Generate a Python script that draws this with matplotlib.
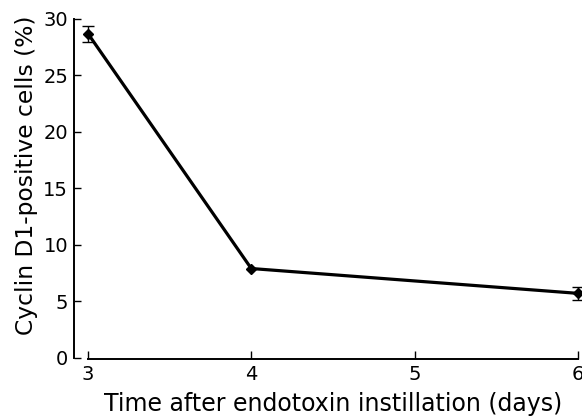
import matplotlib
matplotlib.use("Agg")
import matplotlib.pyplot as plt

days = [3, 4, 6]
cyclin_pct = [28.7, 7.9, 5.7]
cyclin_err = [0.7, 0.0, 0.55]
xticks = [3, 4, 5, 6]
yticks = [0, 5, 10, 15, 20, 25, 30]

plt.rcParams['font.family'] = ['DejaVu Sans']

W, H = 582, 416
fig = plt.figure(figsize=(W/100, H/100), dpi=100)
ax_l, ax_b, ax_t = 74, 58.3, 397
ax = fig.add_axes([ax_l/W, ax_b/H, (W-ax_l)/W, (ax_t-ax_b)/H])

ax.plot(days, cyclin_pct, color='black', lw=2.3, marker='D', ms=4.8,
        clip_on=False, zorder=3)
eb_x = [d for d, e in zip(days, cyclin_err) if e > 0]
eb_y = [v for v, e in zip(cyclin_pct, cyclin_err) if e > 0]
eb_e = [e for e in cyclin_err if e > 0]
ax.errorbar(eb_x, eb_y, yerr=eb_e, fmt='none', ecolor='black',
            capsize=4.6, elinewidth=1.0, capthick=1.0, clip_on=False, zorder=3)

ax.set_xlim(2.9142, 6.026)
ax.set_ylim(0, 30)
ax.set_xticks(xticks)
ax.set_yticks(yticks)
ax.spines['top'].set_visible(False)
ax.spines['right'].set_visible(False)
ax.spines['bottom'].set_bounds(3, 6)
ax.spines['bottom'].set_position(('outward', 1.2))
ax.spines['left'].set_bounds(0, 30)
for s in ('left', 'bottom'):
    ax.spines[s].set_linewidth(1.4)
ax.tick_params(axis='y', direction='in', length=5, width=1.0, labelsize=14, pad=4.3)
ax.tick_params(axis='x', direction='in', length=6, width=1.0, labelsize=14, pad=4.0)

ax.set_xlabel('Time after endotoxin instillation (days)', fontsize=17)
ax.xaxis.label.set_va('baseline')
ax.xaxis.set_label_coords((333 - ax_l)/(W - ax_l), (H - 410.7 - ax_b)/(ax_t - ax_b))

ax.set_ylabel('Cyclin D1-positive cells (%)', fontsize=16.8)
ax.yaxis.label.set_va('baseline')
ax.yaxis.set_label_coords((33 - ax_l)/(W - ax_l), (H - 175.5 - ax_b)/(ax_t - ax_b))

fig.savefig('out.png', dpi=100)
